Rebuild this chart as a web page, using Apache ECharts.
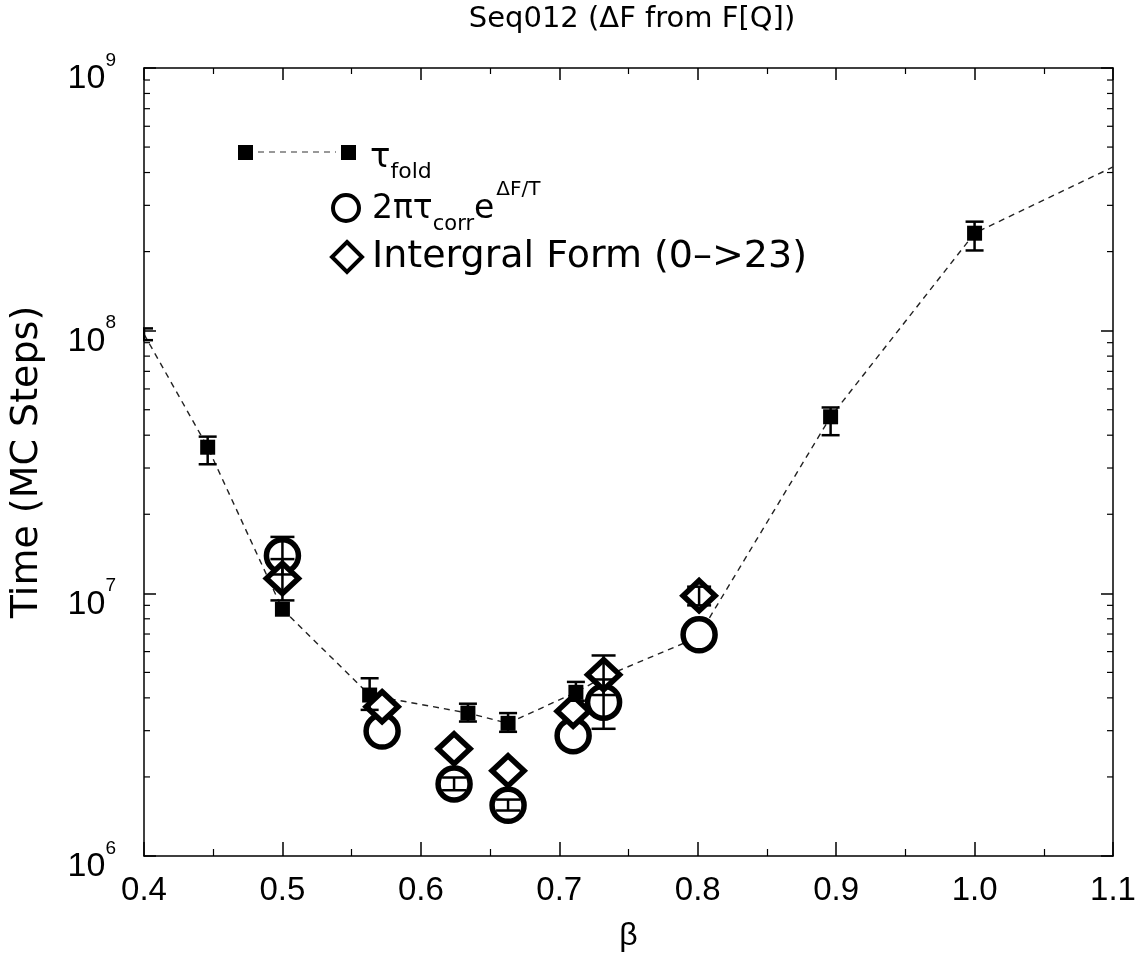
<!DOCTYPE html>
<html>
<head>
<meta charset="utf-8">
<script src="https://cdn.jsdelivr.net/npm/echarts@6/dist/echarts.min.js"></script>
<style>
  html, body { margin: 0; padding: 0; background: #fff; }
  #chart { width: 1143px; height: 957px; }
</style>
</head>
<body>
<div id="chart"></div>
<script>
// beta values and folding times (MC steps)
const betaFold = [0.4, 0.446, 0.5, 0.563, 0.634, 0.663, 0.712, 0.732, 0.8, 0.896, 1.0, 1.1];
const tauFold  = [9.7e7, 3.6e7, 8.7e6, 4.1e6, 3.5e6, 3.2e6, 4.2e6, 4.8e6, 6.8e6, 4.7e7, 2.35e8, 4.2e8];

// 2*pi*tau_corr*exp(dF/T)
const betaCorr = [0.5, 0.572, 0.624, 0.663, 0.710, 0.732, 0.801];
const tauCorr  = [1.39e7, 2.99e6, 1.88e6, 1.56e6, 2.87e6, 3.85e6, 6.95e6];

// integral form (0->23)
const betaInt = [0.5, 0.572, 0.624, 0.663, 0.710, 0.732, 0.801];
const tauInt  = [1.14e7, 3.7e6, 2.56e6, 2.11e6, 3.56e6, 4.9e6, 9.8e6];

// error bars: [beta, low, high]
const foldErr = [[0.4, 9.2e7, 1.02e8], [0.446, 3.1e7, 3.95e7], [0.563, 3.6e6, 4.75e6],
                 [0.634, 3.25e6, 3.8e6], [0.663, 2.97e6, 3.5e6], [0.712, 3.9e6, 4.6e6],
                 [0.896, 4.0e7, 5.1e7], [1.0, 2.02e8, 2.6e8]];
const corrErr = [[0.5, 1.18e7, 1.64e7], [0.624, 1.78e6, 1.99e6], [0.663, 1.49e6, 1.64e6],
                 [0.732, 3.05e6, 4.7e6]];
const intErr  = [[0.5, 9.4e6, 1.35e7], [0.732, 4.1e6, 5.8e6], [0.801, 9.0e6, 1.06e7]];

// axis ranges and tick labels
const xMin = 0.4, xMax = 1.1, xStep = 0.1;
const yMin = 1e6, yMax = 1e9;
const xTickLabels = ['0.4', '0.5', '0.6', '0.7', '0.8', '0.9', '1.0', '1.1'];

const zip = (xs, ys) => xs.map((x, i) => [x, ys[i]]);

// minor log ticks 2..9 within each decade of the y range
const minorLog = [];
for (let d = Math.log10(yMin); d < Math.log10(yMax); d++) {
  for (let m = 2; m <= 9; m++) minorLog.push([m * Math.pow(10, d)]);
}

const chart = echarts.init(document.getElementById('chart'), null, { renderer: 'canvas' });

function errorBars(capHalf) {
  return function (params, api) {
    const x = api.value(0);
    const lo = api.coord([x, api.value(1)]);
    const hi = api.coord([x, api.value(2)]);
    const st = { stroke: '#000', lineWidth: 2.5 };
    return {
      type: 'group',
      children: [
        { type: 'line', shape: { x1: lo[0], y1: lo[1], x2: hi[0], y2: hi[1] }, style: st },
        { type: 'line', shape: { x1: hi[0] - capHalf, y1: hi[1], x2: hi[0] + capHalf, y2: hi[1] }, style: st },
        { type: 'line', shape: { x1: lo[0] - capHalf, y1: lo[1], x2: lo[0] + capHalf, y2: lo[1] }, style: st }
      ]
    };
  };
}

const baseFont = 'Liberation Sans';
const wideFont = 'DejaVu Sans';

const option = {
  animation: false,
  backgroundColor: '#fff',
  title: {
    text: 'Seq012 (ΔF from F[Q])',
    left: 627, top: 0, textAlign: 'center',
    textStyle: { fontFamily: wideFont, fontSize: 29, fontWeight: 'normal', color: '#000' }
  },
  grid: { left: 142, right: 30, top: 68, bottom: 94, containLabel: false },
  xAxis: [{
    type: 'value', min: xMin, max: xMax, interval: xStep,
    name: 'β', nameLocation: 'middle', nameGap: 64,
    nameTextStyle: { fontFamily: baseFont, fontSize: 32, color: '#000' },
    axisLine: { lineStyle: { color: '#000', width: 1.5 } },
    axisTick: { inside: true, length: 14, lineStyle: { color: '#000', width: 1.5 } },
    minorTick: { show: true, splitNumber: 2, length: 7, lineStyle: { color: '#000', width: 1.2 } },
    splitLine: { show: false },
    axisLabel: {
      margin: 18, color: '#000', fontFamily: baseFont, fontSize: 33,
      formatter: v => xTickLabels[Math.round((v - xMin) / xStep)]
    }
  }, {
    type: 'value', min: xMin, max: xMax, interval: xStep, position: 'top',
    axisLine: { lineStyle: { color: '#000', width: 1.5 } },
    axisTick: { inside: true, length: 12, lineStyle: { color: '#000', width: 1.5 } },
    minorTick: { show: true, splitNumber: 2, length: 6, lineStyle: { color: '#000', width: 1.2 } },
    splitLine: { show: false }, axisLabel: { show: false }
  }],
  yAxis: [{
    type: 'log', logBase: 10, min: yMin, max: yMax,
    name: 'Time (MC Steps)', nameLocation: 'middle', nameGap: 98,
    nameTextStyle: { fontFamily: wideFont, fontSize: 38, color: '#000' },
    axisLine: { lineStyle: { color: '#000', width: 1.5 } },
    axisTick: { inside: true, length: 12, lineStyle: { color: '#000', width: 1.5 } },
    splitLine: { show: false },
    axisLabel: {
      margin: 28, color: '#000',
      formatter: v => '{b|10}{s|' + Math.round(Math.log10(v)) + '}',
      rich: {
        b: { fontFamily: baseFont, fontSize: 34, lineHeight: 34, padding: [11, 0, 17, 0], verticalAlign: 'top', color: '#000' },
        s: { fontFamily: baseFont, fontSize: 19, lineHeight: 19, verticalAlign: 'top', color: '#000' }
      }
    }
  }, {
    type: 'log', logBase: 10, min: yMin, max: yMax, position: 'right',
    axisLine: { lineStyle: { color: '#000', width: 1.5 } },
    axisTick: { inside: true, length: 12, lineStyle: { color: '#000', width: 1.5 } },
    splitLine: { show: false }, axisLabel: { show: false }
  }],
  graphic: [
    // legend: tau_fold
    { type: 'rect', shape: { x: 238, y: 145, width: 15, height: 15 }, style: { fill: '#000' } },
    { type: 'line', shape: { x1: 258, y1: 152, x2: 336, y2: 152 }, style: { stroke: '#333', lineWidth: 1.2, lineDash: [6, 5] } },
    { type: 'rect', shape: { x: 341, y: 145, width: 15, height: 15 }, style: { fill: '#000' } },
    { type: 'text', x: 370, y: 139, style: {
        text: '{m|τ}{s|fold}', fill: '#000',
        rich: {
          m: { fontFamily: wideFont, fontSize: 34, lineHeight: 34, padding: [2, 0, 0, 0], verticalAlign: 'top' },
          s: { fontFamily: wideFont, fontSize: 22, lineHeight: 22, padding: [22, 0, 0, 0], verticalAlign: 'top' }
        } } },
    // legend: 2 pi tau_corr e^(dF/T)
    { type: 'circle', shape: { cx: 346, cy: 208, r: 13 }, style: { fill: '#fff', stroke: '#000', lineWidth: 4 } },
    { type: 'text', x: 372, y: 180, style: {
        text: '{m|2πτ}{s|corr}{m|e}{p|ΔF/T}', fill: '#000',
        rich: {
          m: { fontFamily: wideFont, fontSize: 33, lineHeight: 33, padding: [13, 0, 0, 0], verticalAlign: 'top' },
          s: { fontFamily: wideFont, fontSize: 21, lineHeight: 21, padding: [34, 0, 0, 0], verticalAlign: 'top' },
          p: { fontFamily: wideFont, fontSize: 20, lineHeight: 20, padding: [0, 0, 0, 2], verticalAlign: 'top' }
        } } },
    // legend: integral form
    { type: 'polygon', shape: { points: [[347, 242], [362, 257], [347, 272], [332, 257]] }, style: { fill: '#fff', stroke: '#000', lineWidth: 4 } },
    { type: 'text', x: 372, y: 257, style: {
        text: 'Intergral Form (0–>23)', fill: '#000',
        font: '38px "DejaVu Sans"', verticalAlign: 'middle', align: 'left' } }
  ],
  series: [
    {
      name: 'minor log ticks', type: 'custom', xAxisIndex: 0, yAxisIndex: 0, silent: true,
      data: minorLog, encode: { y: 0 }, clip: false, z: 1,
      renderItem: (params, api) => {
        const cs = params.coordSys;
        const y = api.coord([xMin, api.value(0)])[1];
        const st = { stroke: '#000', lineWidth: 1.2 };
        return { type: 'group', children: [
          { type: 'line', shape: { x1: cs.x, y1: y, x2: cs.x + 6, y2: y }, style: st },
          { type: 'line', shape: { x1: cs.x + cs.width - 6, y1: y, x2: cs.x + cs.width, y2: y }, style: st }
        ] };
      }
    },
    {
      name: 'τfold', type: 'line', data: zip(betaFold, tauFold),
      symbol: 'rect', symbolSize: v => (v[0] <= xMin || v[0] >= xMax) ? 0 : 15,
      itemStyle: { color: '#000' },
      lineStyle: { color: '#222', width: 1.4, type: [6, 5] },
      clip: true, z: 2
    },
    {
      name: 'fold err', type: 'custom', data: foldErr, renderItem: errorBars(9), clip: true, z: 4
    },
    {
      name: '2πτcorr', type: 'scatter', data: zip(betaCorr, tauCorr),
      symbol: 'circle', symbolSize: 32,
      itemStyle: { color: '#fff', borderColor: '#000', borderWidth: 5.5, opacity: 1 }, z: 3
    },
    {
      name: 'Integral', type: 'scatter', data: zip(betaInt, tauInt),
      symbol: 'diamond', symbolSize: [32, 30],
      itemStyle: { color: '#fff', borderColor: '#000', borderWidth: 5.5, opacity: 1 }, z: 3
    },
    { name: 'corr err', type: 'custom', data: corrErr, renderItem: errorBars(12), clip: true, z: 4 },
    { name: 'int err', type: 'custom', data: intErr, renderItem: errorBars(12), clip: true, z: 4 }
  ]
};

chart.setOption(option);
</script>
</body>
</html>
